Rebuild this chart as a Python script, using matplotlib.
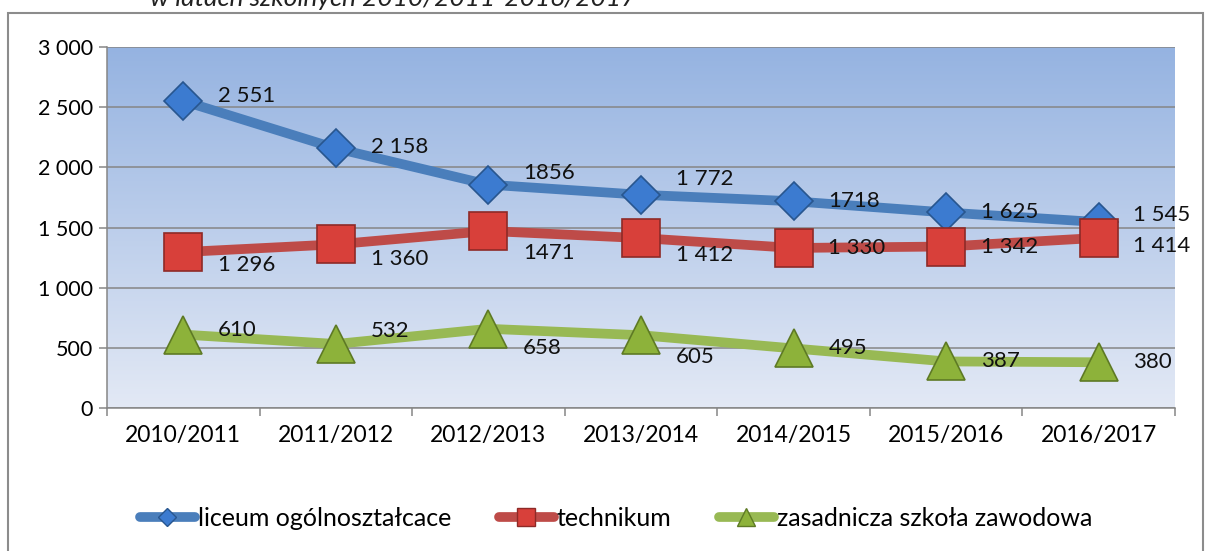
import matplotlib
matplotlib.use("Agg")
import matplotlib.pyplot as plt
import numpy as np
from matplotlib.colors import LinearSegmentedColormap
from matplotlib.lines import Line2D
from matplotlib.patches import Rectangle

plt.rcParams['font.family'] = ['Lato', 'DejaVu Sans']

categories = ["2010/2011", "2011/2012", "2012/2013", "2013/2014", "2014/2015", "2015/2016", "2016/2017"]
liceum = [2551, 2158, 1856, 1772, 1718, 1625, 1545]
technikum = [1296, 1360, 1471, 1412, 1330, 1342, 1414]
zasadnicza = [610, 532, 658, 605, 495, 387, 380]
liceum_labels = ["2 551", "2 158", "1856", "1 772", "1718", "1 625", "1 545"]
technikum_labels = ["1 296", "1 360", "1471", "1 412", "1 330", "1 342", "1 414"]
zasadnicza_labels = ["610", "532", "658", "605", "495", "387", "380"]
series_names = ["liceum ogólnoształcace", "technikum", "zasadnicza szkoła zawodowa"]
yticks = [0, 500, 1000, 1500, 2000, 2500, 3000]
ytick_labels = ["0", "500", "1 000", "1 500", "2 000", "2 500", "3 000"]
title_text = "w latach szkolnych 2010/2011-2016/2017"

# label vertical offsets in pixels (positive = up)
off_l = [5, 1, 12, 16, 0, 0, 7]
off_t = [-13, -15, -22, -17, 0, 0, -8]
off_z = [5, 13, -19, -22, 0, 0, 0]

W, H = 1208, 551
fig = plt.figure(figsize=(W / 100, H / 100), dpi=100)
fig.patch.set_facecolor("white")

# outer chart border
fig.patches.append(Rectangle((8 / W, -0.05), (1203 - 8) / W, (H - 13) / H + 0.05,
                             transform=fig.transFigure, fill=False,
                             edgecolor="#8c8c8c", linewidth=1.5, zorder=0))

# title, cut off at the top edge as in the reference
fig.text(150 / W, 1 - 6 / H, title_text, ha="left", va="baseline", fontsize=19,
         style="italic", color="#222222")

ax = fig.add_axes([107 / W, 1 - 408 / H, (1175 - 107) / W, (408 - 47) / H])
x = np.arange(len(categories))

# gradient background
cmap = LinearSegmentedColormap.from_list("bg", ["#E3E9F5", "#95B3E1"])
grad = np.linspace(0, 1, 256).reshape(-1, 1)
ax.imshow(grad, extent=[-0.5, 6.5, 0, 3000], origin="lower", aspect="auto",
          cmap=cmap, zorder=-1)

ax.set_xlim(-0.5, 6.5)
ax.set_ylim(0, 3000)
ax.set_yticks(yticks)
ax.set_yticklabels(ytick_labels)
ax.yaxis.grid(True, color="#868686", linewidth=1.1)
ax.set_axisbelow(True)

ax.set_xticks(np.arange(-0.5, 7, 1))
ax.set_xticklabels([])
ax.set_xticks(x, minor=True)
ax.set_xticklabels(categories, minor=True)
ax.tick_params(axis="x", which="minor", length=0, pad=12, labelsize=16.5)
ax.tick_params(axis="x", which="major", length=6, color="#868686", width=1.1)
ax.tick_params(axis="y", length=6, color="#868686", width=1.1, labelsize=15.5, pad=4)
for s in ["top", "right"]:
    ax.spines[s].set_visible(False)
for s in ["left", "bottom"]:
    ax.spines[s].set_color("#868686")
    ax.spines[s].set_linewidth(1.1)

styles = [
    (liceum, liceum_labels, off_l, "#4A7EBB", "D", 19, "#3C7BD0", "#28568F"),
    (technikum, technikum_labels, off_t, "#BE4B48", "s", 27, "#D8403A", "#8E2A27"),
    (zasadnicza, zasadnicza_labels, off_z, "#98B954", "^", 27, "#8DB23A", "#5E7A25"),
]
handles = []
for (vals, labs, offs, lc, mk, ms, fc, ec), name in zip(styles, series_names):
    ax.plot(x, vals, color=lc, linewidth=7, solid_capstyle="butt", zorder=3)
    ax.plot(x, vals, linestyle="none", marker=mk, markersize=ms,
            markerfacecolor=fc, markeredgecolor=ec, markeredgewidth=1.2, zorder=4)
    for xi, v, lab, o in zip(x, vals, labs, offs):
        ax.annotate(lab, (xi, v), xytext=(25, o * 0.72), textcoords="offset points",
                    ha="left", va="center", fontsize=16, color="#111111", zorder=5)
    handles.append(Line2D([0], [0], color=lc, linewidth=7, marker=mk, markersize=ms * 0.5,
                          markerfacecolor=fc, markeredgecolor=ec, solid_capstyle="round"))

fig.legend(handles, series_names, loc="center", bbox_to_anchor=(0.51, 1 - 518 / H),
           ncol=3, frameon=False, fontsize=18, handlelength=2.2, handletextpad=0.12,
           columnspacing=1.9)

fig.savefig("out.png", dpi=100)
